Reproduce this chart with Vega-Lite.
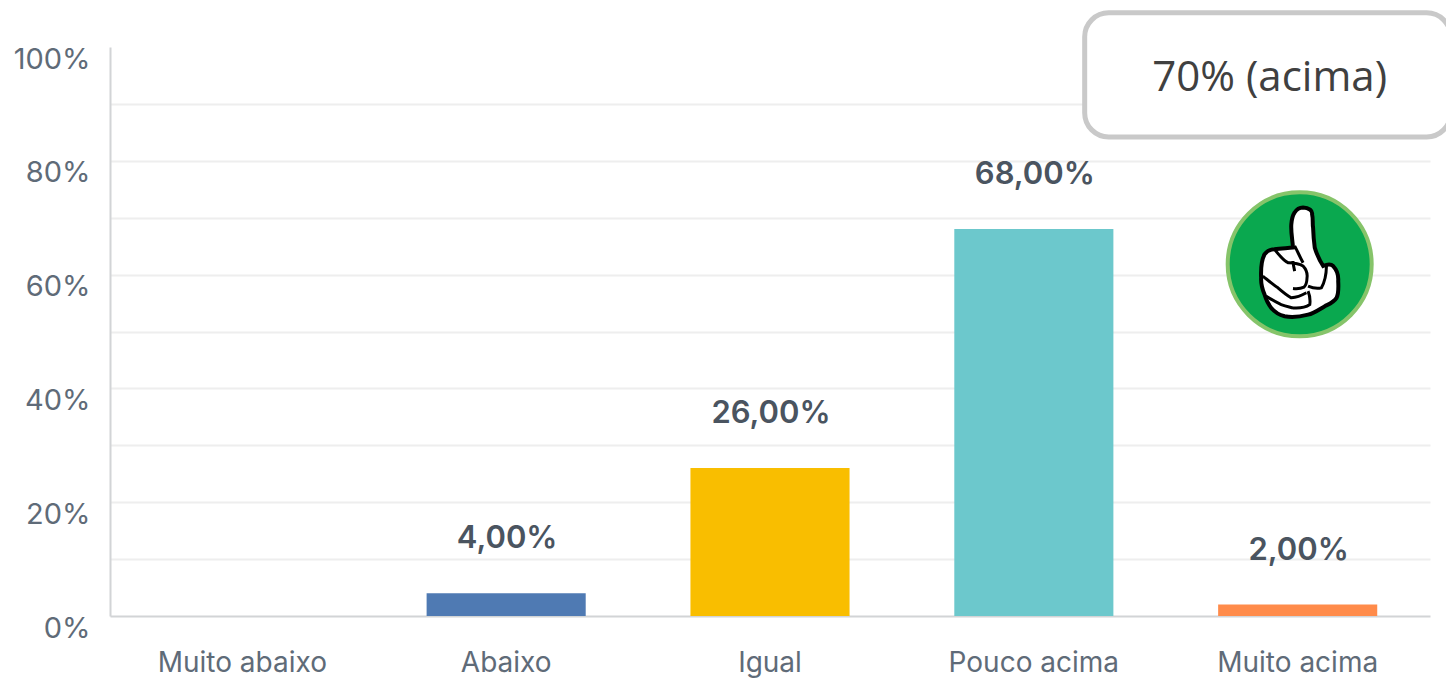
{
"$schema":"https://vega.github.io/schema/vega-lite/v6.json",
"width":1320,"height":569,
"autosize":{"type":"none"},
"padding":{"left":110,"top":47,"right":16,"bottom":64},
"background":"white",
"config":{"view":{"stroke":null}},
"data":{"values":[
{"categoria":"Muito abaixo","valor":0,"rotulo":""},
{"categoria":"Abaixo","valor":4,"rotulo":"4,00%"},
{"categoria":"Igual","valor":26,"rotulo":"26,00%"},
{"categoria":"Pouco acima","valor":68,"rotulo":"68,00%"},
{"categoria":"Muito acima","valor":2,"rotulo":"2,00%"}
]},
"encoding":{
"x":{"field":"categoria","type":"nominal","sort":null,"scale":{"paddingInner":0.397,"paddingOuter":0.2},
"axis":{"title":null,"labelAngle":0,"ticks":false,"domainColor":"#d2d4d6","domainWidth":2,"labelFont":"Inter","labelFontSize":28,"labelColor":"#5f6b78","labelPadding":47,"labelBaseline":"middle"}},
"y":{"field":"valor","type":"quantitative","scale":{"domain":[0,100],"nice":false},
"axis":{"title":null,"values":[0,10,20,30,40,50,60,70,80,90,100],"labelExpr":"datum.value % 20 == 0 ? datum.value + '%' : ''","ticks":false,"domainColor":"#d2d4d6","domainWidth":2,"grid":true,"gridColor":"#eeeeee","gridWidth":2,"gridOpacity":{"condition":{"test":"datum.value == 100 || datum.value == 0","value":0},"value":1},"labelFont":"Inter","labelFontSize":29,"labelColor":"#5f6b78","labelPadding":20,"labelOffset":12,"labelFlush":false}}
},
"layer":[
{"mark":{"type":"bar","clip":false},
"encoding":{"color":{"field":"categoria","type":"nominal","sort":null,"legend":null,"scale":{"domain":["Muito abaixo","Abaixo","Igual","Pouco acima","Muito acima"],"range":["#4f7ab3","#4f7ab3","#f9be00","#6cc8cc","#ff8b4a"]}}}},
{"transform":[{"filter":"datum.valor > 0"}],
"mark":{"type":"text","dy":-54,"xOffset":1,"baseline":"middle","font":"Inter","fontSize":31,"fontWeight":600,"color":"#4a5460"},
"encoding":{"text":{"field":"rotulo","type":"nominal"}}},
{"data":{"values":[{"categoria":"Muito acima","topo":106,"base":84.2}]},
"mark":{"type":"rect","width":366,"xOffset":-30,"fill":"white","stroke":"#c9c9c9","strokeWidth":5,"cornerRadius":24,"clip":false},
"encoding":{"y":{"field":"topo","type":"quantitative"},"y2":{"field":"base"}}},
{"data":{"values":[{"categoria":"Muito acima","pos":94.6,"texto":"70% (acima)"}]},
"mark":{"type":"text","xOffset":-28,"baseline":"middle","font":"Open Sans","fontSize":42,"color":"#404040"},
"encoding":{"y":{"field":"pos","type":"quantitative"},"text":{"field":"texto","type":"nominal"}}},
{"data":{"values":[{"categoria":"Muito acima","pos":61.8}]},
"encoding":{"y":{"field":"pos","type":"quantitative"}},
"layer":[
{"mark":{"type":"point","xOffset":2,"filled":true,"opacity":1,"size":20736,"fill":"#0aa84f","stroke":"#86c46a","strokeWidth":4,"shape":"M-1,0A1,1 0 1,1 1,0A1,1 0 1,1 -1,0Z"}},
{"mark":{"type":"point","xOffset":2,"filled":true,"opacity":1,"size":20736,"fill":"white","stroke":"black","strokeWidth":4,"shape":"M.047,-.791C.13,-.79 .18,-.74 .172,-.698C.19,-.62 .175,-.56 .186,-.512C.19,-.4 .2,-.3 .209,-.233C.24,-.13 .28,-.05 .326,.023C.38,.0 .44,.0 .465,.023C.52,.08 .54,.16 .535,.233C.54,.32 .54,.41 .512,.465C.47,.53 .41,.55 .349,.581C.28,.62 .2,.68 .116,.698C.0,.73 -.12,.74 -.209,.721C-.29,.7 -.35,.66 -.395,.605C-.44,.55 -.47,.48 -.488,.419C-.52,.34 -.54,.26 -.535,.186C-.54,.08 -.53,-.06 -.488,-.14C-.45,-.19 -.4,-.21 -.349,-.209C-.26,-.23 -.17,-.22 -.093,-.233C-.1,-.34 -.125,-.45 -.116,-.558C-.11,-.63 -.09,-.69 -.07,-.721C-.04,-.77 0,-.79 .047,-.791Z"}},
{"mark":{"type":"point","xOffset":2,"filled":false,"opacity":1,"size":20736,"fill":"transparent","stroke":"black","strokeWidth":3,"shape":"M-.349,-.209C-.28,-.12 -.22,-.05 -.163,-.023C-.1,-.02 -.03,-.02 .047,.023C.09,.07 .11,.13 .102,.186C.1,.25 .09,.29 .06,.316C.01,.34 -.05,.34 -.093,.335M-.512,.163C-.44,.22 -.37,.28 -.302,.326C-.24,.38 -.18,.43 -.116,.465C-.05,.46 .03,.43 .093,.395M-.465,.442C-.39,.49 -.32,.53 -.256,.558C-.2,.58 -.15,.59 -.093,.605C-.02,.61 .08,.6 .14,.558C.15,.49 .14,.43 .116,.372M.116,.302C.18,.33 .25,.34 .302,.326C.35,.24 .37,.13 .372,.023M-.093,-.047C-.09,0 -.08,.05 -.07,.093M-.07,-.256C-.03,-.18 .01,-.09 .047,-.023"}}
]}
]
}
